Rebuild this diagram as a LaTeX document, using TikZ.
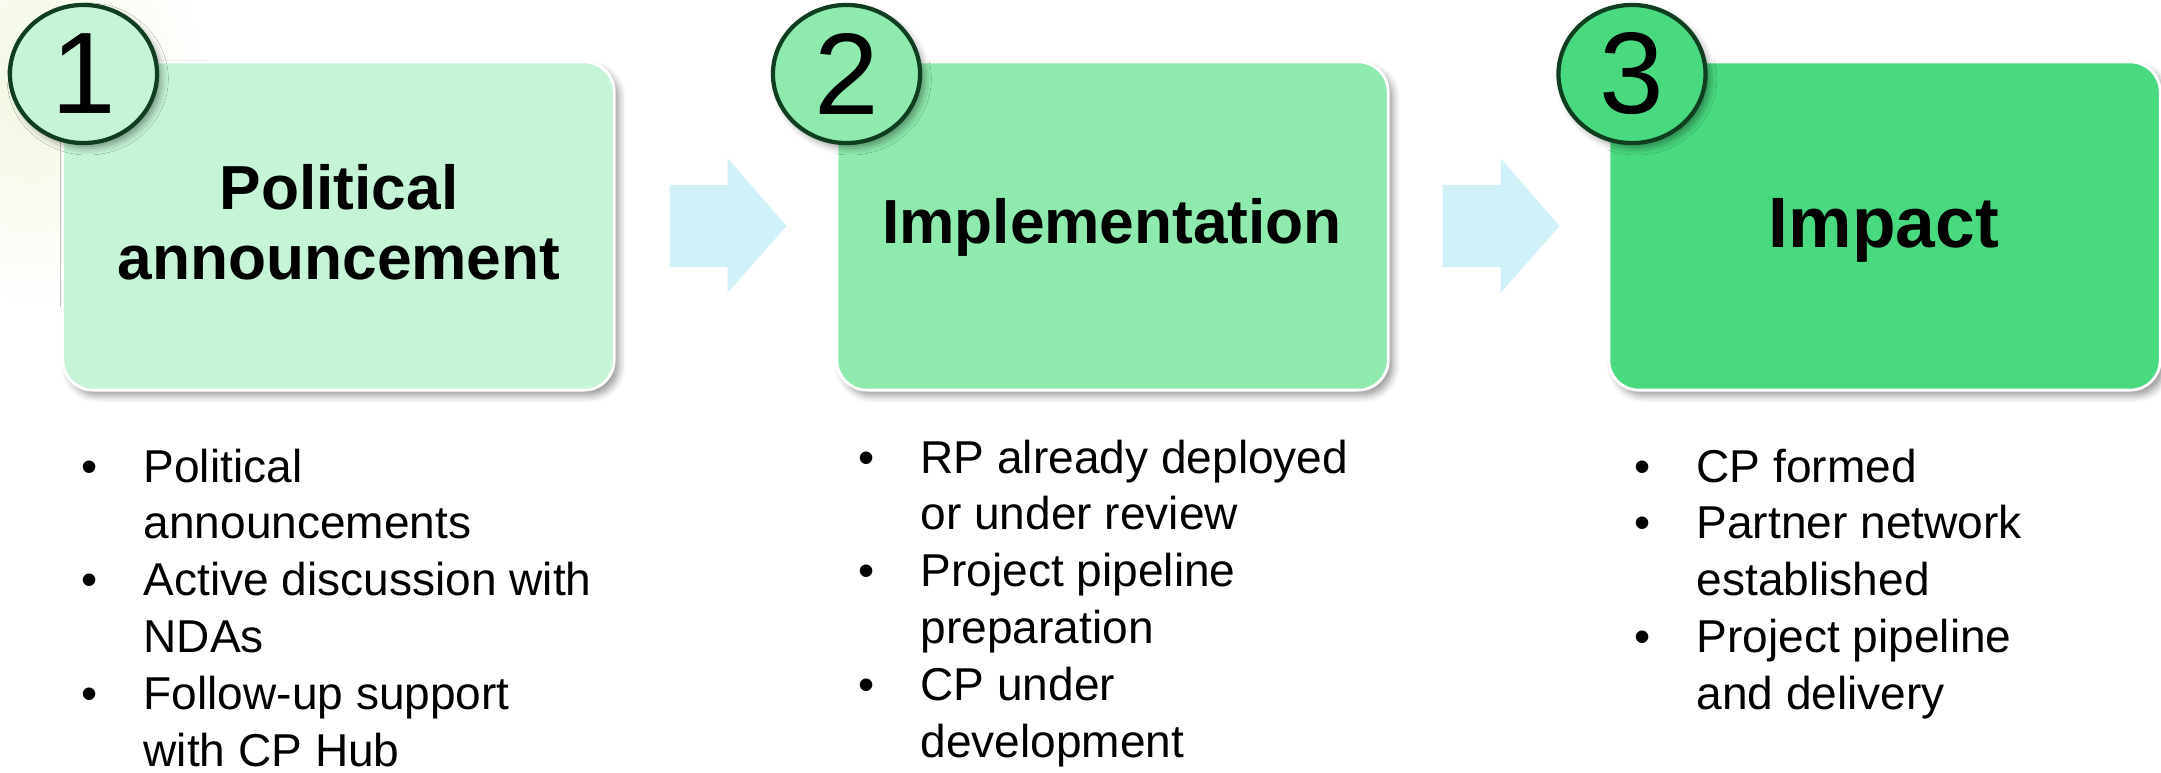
\documentclass[tikz,border=0pt]{standalone}
\usepackage{fontspec}
\setmainfont{Liberation Sans}
\usetikzlibrary{calc,shapes.geometric,shadows.blur}
\definecolor{STEPA}{RGB}{197,244,214}
\definecolor{STEPB}{RGB}{142,234,173}
\definecolor{STEPC}{RGB}{73,217,127}
\definecolor{RIM}{RGB}{16,62,32}
\definecolor{ARROWFILL}{RGB}{209,241,249}
\definecolor{GLOW}{RGB}{242,248,226}
\tikzset{
BOX/.style={draw=white, line width=0.8pt, rounded corners=8.5pt, fill=#1,
	minimum width=5.51cm, minimum height=3.28cm, inner sep=0pt,
	blur shadow={shadow xshift=1.4pt, shadow yshift=-1.6pt, shadow blur radius=2pt, shadow opacity=40}},
NUM/.style={ellipse, draw=RIM, line width=1.2pt, fill=#1, inner sep=0pt,
	minimum width=1.47cm, minimum height=1.38cm, font=\fontsize{33}{33}\selectfont,
	blur shadow={shadow xshift=1.2pt, shadow yshift=-1.4pt, shadow blur radius=2pt, shadow opacity=40}},
TITLE/.style={font=\bfseries\fontsize{17.7}{20}\selectfont, align=center, inner sep=0pt},
LIST/.style={anchor=base west, inner sep=0pt, font=\fontsize{13.1}{16.2}\selectfont},
ARROW/.style={fill=ARROWFILL, draw=none},
}
\newcommand{\bul}{\makebox[17.6pt][l]{\textbullet}}

\begin{document}
\begin{tikzpicture}
[x=0.01cm, y=-0.01cm]
	\useasboundingbox (0,0) rectangle (2161,773);
	\shade[inner color=GLOW, outer color=white] (30,90) ellipse (180 and 220); %faint glow
	%Steps
	\node[BOX=STEPA] (box1) at (338.5,226) {};
	\node[BOX=STEPB] (box2) at (1112.5,226) {};
	\node[BOX=STEPC] (box3) at (1884.5,226) {};
	\node[NUM=STEPA] (num1) at (83.5,74) {1};
	\node[NUM=STEPB] (num2) at (846.5,74) {2};
	\node[NUM=STEPC] (num3) at (1632,74) {3};
	\node[TITLE] (title1) at (339,222.5) {Political\\announcement};
	\node[TITLE, anchor=base] (title2) at (1112,243) {Implementation};
	\node[TITLE, anchor=base, font=\bfseries\fontsize{20.3}{24}\selectfont] (title3) at (1884,247) {Impact};
	%Arrows between steps
	\foreach \a/\b in {box1/box2, box2/box3}
		\fill[ARROW, shift={($(\a.east)!0.5!(\b.west)$)}]
			(-56,-41) -- (2,-41) -- (2,-68) -- (61,0) -- (2,67) -- (2,41) -- (-56,41) -- cycle;
	%Bullet lists
	\node[LIST] (list1) at (81,482) {\begin{tabular}[t]{@{}l@{}l@{}}
		\bul & Political\\ & announcements\\
		\bul & Active discussion with\\ & NDAs\\
		\bul & Follow-up support\\ & with CP Hub\end{tabular}};
	\node[LIST] (list2) at (858,473) {\begin{tabular}[t]{@{}l@{}l@{}}
		\bul & RP already deployed\\ & or under review\\
		\bul & Project pipeline\\ & preparation\\
		\bul & CP under\\ & development\end{tabular}};
	\node[LIST] (list3) at (1634,482) {\begin{tabular}[t]{@{}l@{}l@{}}
		\bul & CP formed\\
		\bul & Partner network\\ & established\\
		\bul & Project pipeline\\ & and delivery\end{tabular}};
\end{tikzpicture}
\end{document}
